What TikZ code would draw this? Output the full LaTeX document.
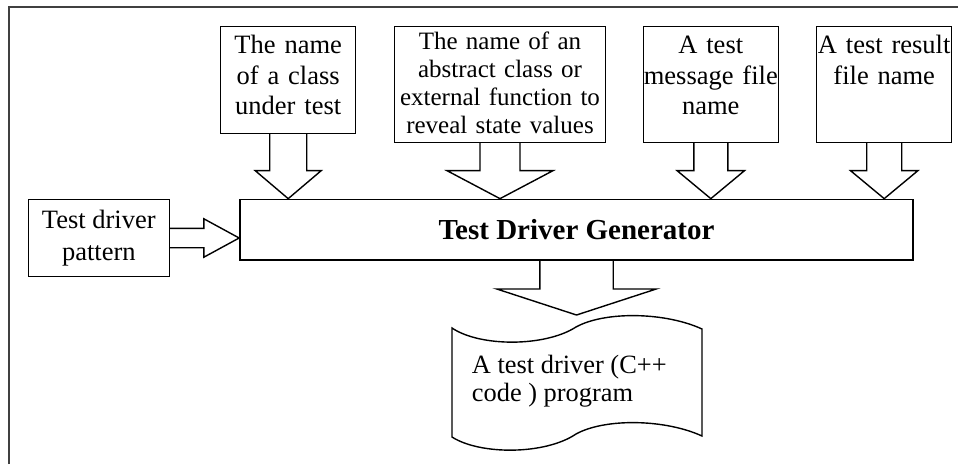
\documentclass[tikz,border=0pt]{standalone}
\usepackage{fontspec}
\setmainfont{Liberation Serif}
\usetikzlibrary{calc}

% block arrows: from, tip, half shaft, half head, head length
\newcommand\downblock[5]{%
\draw[blockarrow] ($(#1)+(-#3,0)$) -- ($(#2)+(-#3,-#5)$) -- ($(#2)+(-#4,-#5)$) -- (#2)
  -- ($(#2)+(#4,-#5)$) -- ($(#2)+(#3,-#5)$) -- ($(#1)+(#3,0)$);}
\newcommand\rightblock[5]{%
\draw[blockarrow] ($(#1)+(0,-#3)$) -- ($(#2)+(-#5,-#3)$) -- ($(#2)+(-#5,-#4)$) -- (#2)
  -- ($(#2)+(-#5,#4)$) -- ($(#2)+(-#5,#3)$) -- ($(#1)+(0,#3)$);}

\begin{document}
\begin{tikzpicture}[x=1pt,y=-1pt,
  inbox/.style={draw, line width=1.4pt, align=center, anchor=north, inner xsep=-12.5pt, inner ysep=9pt,
    text width=160pt, text height=18pt, font=\fontsize{26.5}{30.7}\selectfont},
  blockarrow/.style={draw, line width=1.4pt, line join=miter},
  frame/.style={draw=black!75, line width=1.2pt}]
\useasboundingbox (0,0) rectangle (958,464);
\draw[frame] (9,464) -- (9,7) -- (958,7);

\node[inbox, text depth=71pt] (cls) at (288.2,25.7) {The name\\ of a class\\ under test};
\node[inbox, text width=230pt, inner xsep=-9.3pt, text height=14.2pt, text depth=83.8pt,
  font=\fontsize{25}{28}\selectfont] (abs) at (500,25.7)
  {The name of an\\ abstract class or\\ external function to\\ reveal state values};
\node[inbox, text depth=80pt] (msg) at (710.8,25.7) {A test\\ message file\\ name};
\node[inbox, text depth=80pt] (res) at (884.2,25.7) {A test result\\ file name};

\node[draw, line width=1.4pt, minimum width=673.3pt, minimum height=60.7pt, inner sep=0pt,
  font=\fontsize{29}{33}\selectfont\bfseries] (gen) at (576.5,229.7) {Test Driver Generator};
\node[draw, line width=1.4pt, minimum width=141pt, minimum height=77.4pt, inner sep=0pt, align=center,
  font=\fontsize{26.5}{31.5}\selectfont] (pat) at (98.8,238) {Test driver\\ pattern};

% program document
\draw[blockarrow] (452,328) .. controls (480,347) and (545,347) .. (576,327)
  .. controls (605,311) and (665,312) .. (702,329) -- (702,436)
  .. controls (665,419) and (605,418) .. (576,434)
  .. controls (545,455) and (480,455) .. (452,437) -- cycle;
\node[anchor=north west, inner sep=0pt, align=left, font=\fontsize{26.4}{28}\selectfont] (prog) at (471.7,354.6)
  {A test driver (C++\\ code ) program};

\coordinate (clsTip) at (cls.south |- gen.north);
\coordinate (absTip) at (abs.south |- gen.north);
\coordinate (msgTip) at (msg.south |- gen.north);
\coordinate (resTip) at (res.south |- gen.north);
\coordinate (patTip) at (gen.west |- pat.east);
\coordinate (progTip) at (gen.south |- 0,315);

\downblock{cls.south}{clsTip}{18.5}{33}{28}
\downblock{abs.south}{absTip}{20}{53}{28}
\downblock{msg.south}{msgTip}{17}{33.7}{28}
\downblock{res.south}{resTip}{17.5}{33.7}{28}
\rightblock{pat.east}{patTip}{9.7}{19.2}{35.3}
\downblock{gen.south}{progTip}{36.7}{79.7}{26}
\end{tikzpicture}
\end{document}
